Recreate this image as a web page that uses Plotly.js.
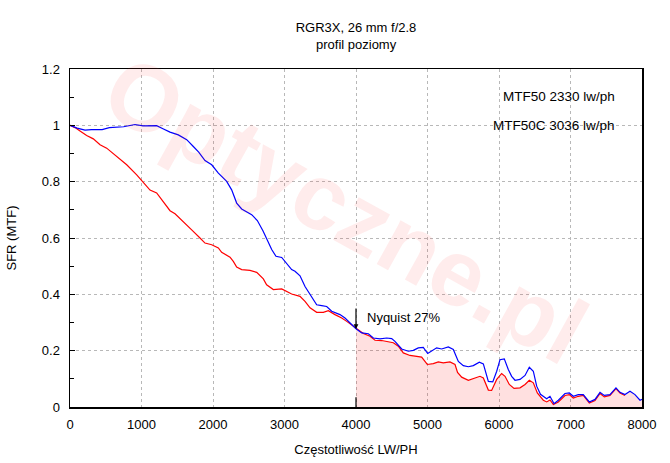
<!DOCTYPE html>
<html>
<head>
<meta charset="utf-8">
<script src="https://cdn.plot.ly/plotly-3.0.1.min.js"></script>
<style>html,body{margin:0;padding:0;background:#fff;}#chart{width:670px;height:463px;}</style>
</head>
<body>
<div id="chart"></div>
<script>
// Blue curve (MTF)
const blueX = [0,100,210,300,450,550,750,909,1021,1212,1300,1399,1515,1632,1725,1800,1888,1982,2075,2191,2261,2331,2401,2541,2620,2700,2821,2881,2961,3031,3100,3147,3217,3287,3357,3450,3520,3590,3660,3776,3846,3940,4000,4080,4173,4243,4336,4429,4499,4545,4639,4732,4802,4871,4941,5003,5059,5128,5198,5291,5361,5431,5501,5571,5641,5725,5781,5851,5913,5968,6014,6074,6130,6177,6224,6294,6364,6424,6480,6527,6580,6667,6713,6769,6830,6923,6983,7039,7109,7179,7263,7343,7413,7473,7552,7636,7692,7762,7832,7902,7972,8019];
const blueY = [1.0,0.99,0.983,0.985,0.985,0.992,0.995,1.003,0.998,0.999,0.988,0.976,0.966,0.949,0.925,0.905,0.875,0.860,0.830,0.801,0.771,0.724,0.703,0.683,0.662,0.625,0.559,0.535,0.531,0.511,0.488,0.482,0.466,0.428,0.399,0.363,0.360,0.357,0.340,0.328,0.316,0.293,0.278,0.263,0.260,0.245,0.242,0.245,0.243,0.233,0.206,0.198,0.201,0.210,0.212,0.190,0.198,0.210,0.206,0.213,0.204,0.162,0.147,0.143,0.147,0.159,0.153,0.091,0.089,0.127,0.168,0.171,0.133,0.109,0.095,0.098,0.112,0.141,0.127,0.074,0.045,0.029,0.038,0.012,0.024,0.048,0.050,0.038,0.044,0.044,0.018,0.027,0.052,0.041,0.044,0.068,0.052,0.044,0.056,0.044,0.024,0.029];
// Red curve (MTF, contrast corrected)
const redX = [0,70,140,233,326,420,513,653,793,933,1002,1119,1212,1290,1399,1469,1585,1702,1818,1888,1982,2075,2121,2238,2284,2331,2401,2517,2611,2704,2750,2844,2961,3031,3100,3217,3287,3357,3450,3543,3613,3706,3800,3870,3986,4103,4196,4266,4359,4452,4522,4592,4662,4755,4848,4918,4997,5081,5151,5221,5314,5385,5420,5478,5571,5641,5734,5781,5851,5897,5968,6037,6084,6144,6210,6294,6364,6424,6480,6536,6620,6667,6713,6760,6830,6923,6983,7039,7109,7179,7263,7343,7413,7473,7552,7636,7692,7762];
const redY = [1.0,0.992,0.980,0.964,0.952,0.931,0.919,0.889,0.860,0.824,0.803,0.770,0.760,0.734,0.697,0.686,0.659,0.629,0.600,0.582,0.576,0.565,0.549,0.532,0.517,0.497,0.488,0.485,0.478,0.455,0.434,0.417,0.419,0.411,0.401,0.393,0.375,0.352,0.336,0.336,0.342,0.328,0.316,0.304,0.281,0.261,0.251,0.237,0.236,0.230,0.228,0.216,0.192,0.183,0.180,0.177,0.151,0.154,0.160,0.157,0.160,0.151,0.123,0.106,0.095,0.100,0.109,0.103,0.060,0.059,0.098,0.119,0.109,0.080,0.066,0.068,0.080,0.095,0.086,0.050,0.024,0.018,0.025,0.009,0.018,0.041,0.044,0.032,0.038,0.041,0.014,0.023,0.048,0.036,0.041,0.065,0.050,0.041];

const nyquist = 4000;
const nyquistPct = "Nyquist 27%";
const mtf50Text = "MTF50 2330 lw/ph";
const mtf50cText = "MTF50C 3036 lw/ph";
const xTicks = [0,1000,2000,3000,4000,5000,6000,7000,8000];
const yTicks = [0,0.2,0.4,0.6,0.8,1,1.2];

// pink fill region beyond Nyquist, under the red curve (then blue tail)
const fillX = [], fillY = [];
for (let i = 1; i < redX.length; i++) {
  if (redX[i-1] < nyquist && redX[i] >= nyquist) {
    const t = (nyquist - redX[i-1]) / (redX[i] - redX[i-1]);
    fillX.push(nyquist); fillY.push(redY[i-1] + t*(redY[i]-redY[i-1]));
  }
  if (redX[i] >= nyquist) { fillX.push(redX[i]); fillY.push(redY[i]); }
}
const lastRed = redX[redX.length-1];
for (let i = 0; i < blueX.length; i++) {
  if (blueX[i] > lastRed) { fillX.push(blueX[i]); fillY.push(blueY[i]); }
}

const font = "Liberation Sans, Arial, sans-serif";
const traces = [
  {x: fillX, y: fillY, mode: 'lines', line: {width: 0}, fill: 'tozeroy', fillcolor: 'rgba(255,0,0,0.12)', hoverinfo: 'skip', showlegend: false},
  {x: redX, y: redY, mode: 'lines', line: {color: '#ff0000', width: 1.2}, showlegend: false},
  {x: blueX, y: blueY, mode: 'lines', line: {color: '#0000ff', width: 1.2}, showlegend: false}
];

const layout = {
  width: 670, height: 463,
  margin: {l: 70, r: 28, t: 69, b: 55.5},
  paper_bgcolor: '#fff', plot_bgcolor: '#fff',
  font: {family: font, size: 13, color: '#000'},
  title: {text: 'RGR3X, 26 mm f/2.8', font: {size: 13, family: font}, x: 0.5, xref: 'paper', xanchor: 'center', y: 1 - 27/463, yanchor: 'middle', yref: 'container'},
  xaxis: {
    range: [0, 8000], tickvals: xTicks, ticktext: xTicks.map(String),
    showgrid: true, gridcolor: '#b8b8b8', griddash: '3px,3px', gridwidth: 1,
    zeroline: false, showline: true, mirror: true, linecolor: '#000', linewidth: 1.5,
    ticks: '', ticklabelstandoff: 5, tickfont: {size: 13},
    title: {text: 'Częstotliwość LW/PH', font: {size: 13}, standoff: 14}
  },
  yaxis: {
    range: [0, 1.2], tickvals: yTicks, ticktext: yTicks.map(String),
    showgrid: true, gridcolor: '#b8b8b8', griddash: '3px,3px', gridwidth: 1,
    zeroline: false, showline: true, mirror: true, linecolor: '#000', linewidth: 1.5,
    ticks: 'inside', ticklen: 5, tickcolor: '#000', ticklabelstandoff: 6, tickfont: {size: 13},
    minor: {dtick: 0.1, ticks: 'inside', ticklen: 4, tickcolor: '#000', showgrid: false},
    title: {text: 'SFR (MTF)', font: {size: 13}, standoff: 22}
  },
  shapes: [
    {type: 'line', xref: 'x', yref: 'y', x0: nyquist, x1: nyquist, y0: 0, y1: 0.035, line: {color: '#000', width: 1.2}}
  ],
  annotations: [
    {text: '<b>Optyczne.pl</b>', xref: 'x', yref: 'y', x: 3850, y: 0.70, showarrow: false, textangle: 29,
     font: {size: 94, family: font, color: 'rgba(255,40,40,0.09)'}},
    {text: 'profil poziomy', xref: 'paper', yref: 'paper', x: 0.5, y: 1 + (69-44)/(463-69-55.5), xanchor: 'center', yanchor: 'middle', showarrow: false, font: {size: 13}},
    {text: '', xref: 'x', yref: 'y', x: nyquist, y: 0.277, ax: 0, ay: -22, showarrow: true, arrowhead: 2, arrowsize: 0.8, arrowwidth: 1.2, arrowcolor: '#000'},
    {text: nyquistPct, xref: 'x', yref: 'y', x: 4126, y: 0.317, xanchor: 'left', yanchor: 'middle', showarrow: false, font: {size: 13}},
    {text: mtf50Text, xref: 'x', yref: 'y', x: 7650, y: 1.101, xanchor: 'right', yanchor: 'middle', showarrow: false, font: {size: 13.5}},
    {text: mtf50cText, xref: 'x', yref: 'y', x: 7650, y: 0.998, xanchor: 'right', yanchor: 'middle', showarrow: false, font: {size: 13.5}}
  ]
};

Plotly.newPlot('chart', traces, layout, {staticPlot: true, displayModeBar: false});
</script>
</body>
</html>
